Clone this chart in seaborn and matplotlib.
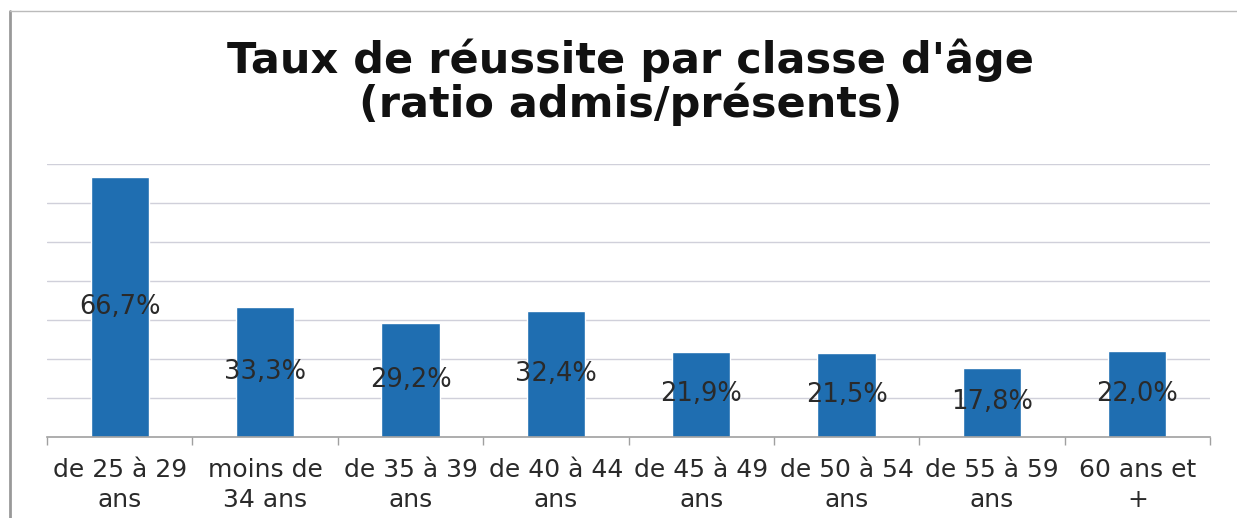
import matplotlib
matplotlib.use("Agg")
import matplotlib.pyplot as plt
import seaborn as sns
import pandas as pd
from matplotlib.lines import Line2D

categories = ["de 25 à 29\nans", "moins de\n34 ans", "de 35 à 39\nans", "de 40 à 44\nans",
              "de 45 à 49\nans", "de 50 à 54\nans", "de 55 à 59\nans", "60 ans et\n+"]
values = [66.7, 33.3, 29.2, 32.4, 21.9, 21.5, 17.8, 22.0]
title = "Taux de réussite par classe d'âge\n(ratio admis/présents)"

sns.set_theme(style="white")
plt.rcParams['font.family'] = ['DejaVu Sans']

df = pd.DataFrame({"cat": categories, "val": values})

fig = plt.figure(figsize=(12.37, 5.18), dpi=100)
ax = fig.add_axes([47/1237, 81/518, 1163/1237, 273/518])

sns.barplot(data=df, x="cat", y="val", color="#1F6EB1", width=0.4, saturation=1, ax=ax, zorder=2)

ax.set_ylim(0, 70)
ax.set_xlim(-0.5, len(categories) - 0.5)
ax.set_yticks(range(10, 71, 10))
ax.yaxis.grid(True, color="#d0d0da", linewidth=1)
ax.set_axisbelow(True)
ax.tick_params(axis="y", left=False, labelleft=False)
for s in ["left", "right", "top"]:
    ax.spines[s].set_visible(False)
ax.spines["bottom"].set_color("#a0a0a0")
ax.spines["bottom"].set_linewidth(1.2)
ax.set_xlabel("")
ax.set_ylabel("")

ax.set_xticks([i - 0.5 for i in range(len(categories) + 1)], minor=True)
ax.tick_params(axis="x", which="minor", bottom=True, length=6, color="#a0a0a0", width=1)
ax.tick_params(axis="x", which="major", bottom=False, length=0, labelsize=18,
               labelcolor="#2a2a2a", pad=15)
for lbl in ax.get_xticklabels():
    lbl.set_linespacing(1.33)
    lbl.set_verticalalignment("top")

for i, v in enumerate(values):
    ax.text(i, v / 2, f"{v:.1f}%".replace(".", ","), ha="center", va="center",
            fontsize=18.5, color="#2a2a2a", zorder=3)

fig.text(631/1237, (518 - 39)/518, title, ha="center", va="top", multialignment="center",
         fontsize=31, fontweight="bold", color="#111111", linespacing=1.0)

fig.lines.append(Line2D([10/1237, 10/1237], [0, (518 - 11)/518], transform=fig.transFigure,
                        color="#999999", linewidth=2))
fig.lines.append(Line2D([10/1237, 1], [(518 - 11)/518, (518 - 11)/518], transform=fig.transFigure,
                        color="#bbbbbb", linewidth=1))

fig.savefig("out.png", dpi=100, facecolor="white")
